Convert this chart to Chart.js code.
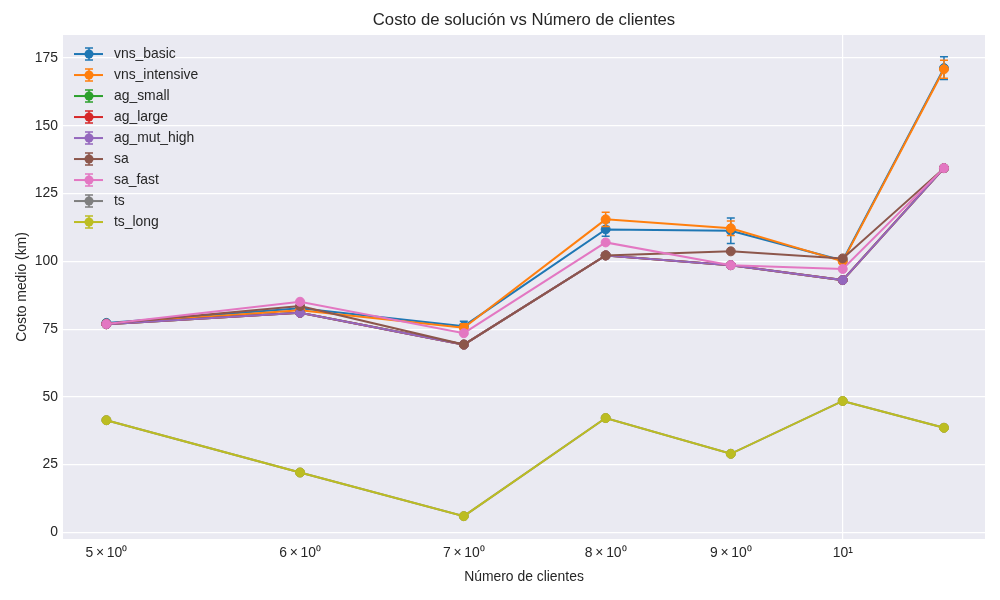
<!DOCTYPE html>
<html><head><meta charset="utf-8">
<script src="https://cdn.jsdelivr.net/npm/chart.js@4.4.0/dist/chart.umd.min.js"></script>
<style>html,body{margin:0;padding:0;background:#fff}#wrap{width:1000px;height:600px}</style>
</head><body><div id="wrap"><canvas id="c" width="1000" height="600"></canvas></div>
<script>
// ---- data ----
const clientes = [5, 6, 7, 8, 9, 10, 11];
const seriesNames = ['vns_basic','vns_intensive','ag_small','ag_large','ag_mut_high','sa','sa_fast','ts','ts_long'];
const vns_basic      = [77.3, 82.7, 76.1, 111.8, 111.3, 100.3, 171.3];
const vns_basic_err  = [0.3, 1.0, 1.8, 2.5, 4.7, 0.8, 4.2];
const vns_intensive     = [77.0, 82.0, 75.5, 115.5, 112.2, 100.0, 170.9];
const vns_intensive_err = [0.3, 0.8, 1.5, 2.6, 2.7, 0.8, 3.3];
const ag_small    = [76.8, 81.0, 69.3, 102.2, 98.6, 93.1, 134.4];
const ag_large    = [76.8, 81.0, 69.3, 102.2, 98.6, 93.1, 134.4];
const ag_mut_high = [76.8, 81.0, 69.3, 102.2, 98.6, 93.1, 134.4];
const sa          = [77.0, 83.5, 69.3, 102.2, 103.7, 101.1, 134.4];
const sa_fast     = [76.9, 85.1, 73.5, 107.0, 98.6, 97.2, 134.4];
const ts          = [41.4, 22.1, 6.0, 42.2, 29.0, 48.5, 38.6];
const ts_long     = [41.4, 22.1, 6.0, 42.2, 29.0, 48.5, 38.6];
const zeroErr     = [0, 0, 0, 0, 0, 0, 0];
const xTickValues = [5, 6, 7, 8, 9, 10];
const xTickLabels = ['5\u2009×\u200910⁰', '6\u2009×\u200910⁰', '7\u2009×\u200910⁰', '8\u2009×\u200910⁰', '9\u2009×\u200910⁰', '10¹'];
const yTickValues = [0, 25, 50, 75, 100, 125, 150, 175];
const colors = ['#1f77b4','#ff7f0e','#2ca02c','#d62728','#9467bd','#8c564b','#e377c2','#7f7f7f','#bcbd22'];

const seriesValues = [vns_basic, vns_intensive, ag_small, ag_large, ag_mut_high, sa, sa_fast, ts, ts_long];
const seriesErrors = [vns_basic_err, vns_intensive_err, zeroErr, zeroErr, zeroErr, zeroErr, zeroErr, zeroErr, zeroErr];

const FONT = "'Liberation Sans', Arial, sans-serif";
const TXT = '#262626';

const datasets = seriesNames.map((name, i) => ({
  label: name,
  data: clientes.map((x, j) => ({x: x, y: seriesValues[i][j]})),
  errors: seriesErrors[i],
  borderColor: colors[i],
  backgroundColor: colors[i],
  pointBackgroundColor: colors[i],
  pointBorderColor: colors[i],
  borderWidth: 2,
  pointRadius: 4.5,
  pointBorderWidth: 1,
  pointHoverRadius: 4.5,
  tension: 0,
  order: seriesNames.length - i
}));

const bgPlugin = {
  id: 'bg',
  afterLayout(chart) {
    const t = chart.titleBlock;
    if (t) {
      t.left = chart.chartArea.left;
      t.right = chart.chartArea.right;
      t.width = t.right - t.left;
    }
  },
  beforeDraw(chart) {
    const {ctx, chartArea: a} = chart;
    ctx.save();
    ctx.fillStyle = '#fff';
    ctx.fillRect(0, 0, chart.width, chart.height);
    ctx.fillStyle = '#EAEAF2';
    ctx.fillRect(a.left, a.top, a.right - a.left, a.bottom - a.top);
    ctx.restore();
  }
};

const errPlugin = {
  id: 'errbars',
  beforeDatasetDraw(chart, args) {
    const ds = chart.data.datasets[args.index];
    const xs = chart.scales.x, ys = chart.scales.y;
    const ctx = chart.ctx;
    ctx.save();
    ctx.strokeStyle = ds.borderColor;
    ctx.lineWidth = 1.5;
    ds.data.forEach((p, j) => {
      const e = ds.errors[j];
      if (!e) return;
      const px = xs.getPixelForValue(p.x);
      const y1 = ys.getPixelForValue(p.y - e), y2 = ys.getPixelForValue(p.y + e);
      ctx.beginPath();
      ctx.moveTo(px, y1); ctx.lineTo(px, y2);
      ctx.moveTo(px - 4, y1); ctx.lineTo(px + 4, y1);
      ctx.moveTo(px - 4, y2); ctx.lineTo(px + 4, y2);
      ctx.stroke();
    });
    ctx.restore();
  }
};

const legendPlugin = {
  id: 'customLegend',
  afterDraw(chart) {
    const ctx = chart.ctx;
    const a = chart.chartArea;
    const x0 = a.left + 11, y0 = a.top + 19, step = 21;
    ctx.save();
    ctx.font = '13.9px ' + FONT;
    ctx.textBaseline = 'middle';
    ctx.textAlign = 'left';
    chart.data.datasets.forEach((ds, i) => {
      const y = y0 + i * step;
      const c = ds.borderColor;
      ctx.strokeStyle = c; ctx.lineWidth = 2;
      ctx.beginPath(); ctx.moveTo(x0, y); ctx.lineTo(x0 + 29, y); ctx.stroke();
      const mx = x0 + 15;
      ctx.lineWidth = 1.5;
      ctx.beginPath();
      ctx.moveTo(mx, y - 6); ctx.lineTo(mx, y + 6);
      ctx.moveTo(mx - 4, y - 6); ctx.lineTo(mx + 4, y - 6);
      ctx.moveTo(mx - 4, y + 6); ctx.lineTo(mx + 4, y + 6);
      ctx.stroke();
      ctx.fillStyle = c;
      ctx.beginPath(); ctx.arc(mx, y, 4.5, 0, Math.PI * 2); ctx.fill();
      ctx.fillStyle = TXT;
      ctx.fillText(ds.label, x0 + 40, y);
    });
    ctx.restore();
  }
};

new Chart(document.getElementById('c'), {
  type: 'line',
  data: {datasets},
  plugins: [bgPlugin, errPlugin, legendPlugin],
  options: {
    responsive: false,
    animation: false,
    devicePixelRatio: 1,
    layout: {padding: {left: 0, right: 15, top: 0, bottom: 0}},
    plugins: {
      legend: {display: false},
      tooltip: {enabled: false},
      title: {
        display: true,
        text: 'Costo de solución vs Número de clientes',
        color: TXT,
        font: {family: FONT, size: 16.7, weight: 'normal'},
        padding: {top: 10, bottom: 5}
      }
    },
    scales: {
      x: {
        type: 'logarithmic',
        min: 4.8076,
        max: 11.433,
        border: {display: false},
        afterFit(s) { s.height = 61; },
        afterBuildTicks(s) { s.ticks = xTickValues.map(v => ({value: v})); },
        grid: {
          drawTicks: false,
          lineWidth: 1.2,
          color: ctx => (ctx.tick && ctx.tick.value === 10) ? '#ffffff' : 'rgba(0,0,0,0)'
        },
        ticks: {
          autoSkip: false,
          maxRotation: 0,
          padding: 6,
          color: TXT,
          font: {family: FONT, size: 13.9},
          callback: (v, i) => xTickLabels[i]
        },
        title: {
          display: true,
          text: 'Número de clientes',
          color: TXT,
          font: {family: FONT, size: 13.9},
          padding: {top: 0, bottom: 14.7}
        }
      },
      y: {
        type: 'linear',
        min: -2.43,
        max: 183.5,
        border: {display: false},
        afterFit(s) { s.width = 63; },
        afterBuildTicks(s) { s.ticks = yTickValues.map(v => ({value: v})); },
        grid: {drawTicks: false, color: '#ffffff', lineWidth: 1.2},
        ticks: {
          padding: 5,
          color: TXT,
          font: {family: FONT, size: 13.9}
        },
        title: {
          display: true,
          text: 'Costo medio (km)',
          color: TXT,
          font: {family: FONT, size: 13.9},
          padding: {top: 13.7, bottom: 0}
        }
      }
    }
  }
});
</script>
</body></html>
